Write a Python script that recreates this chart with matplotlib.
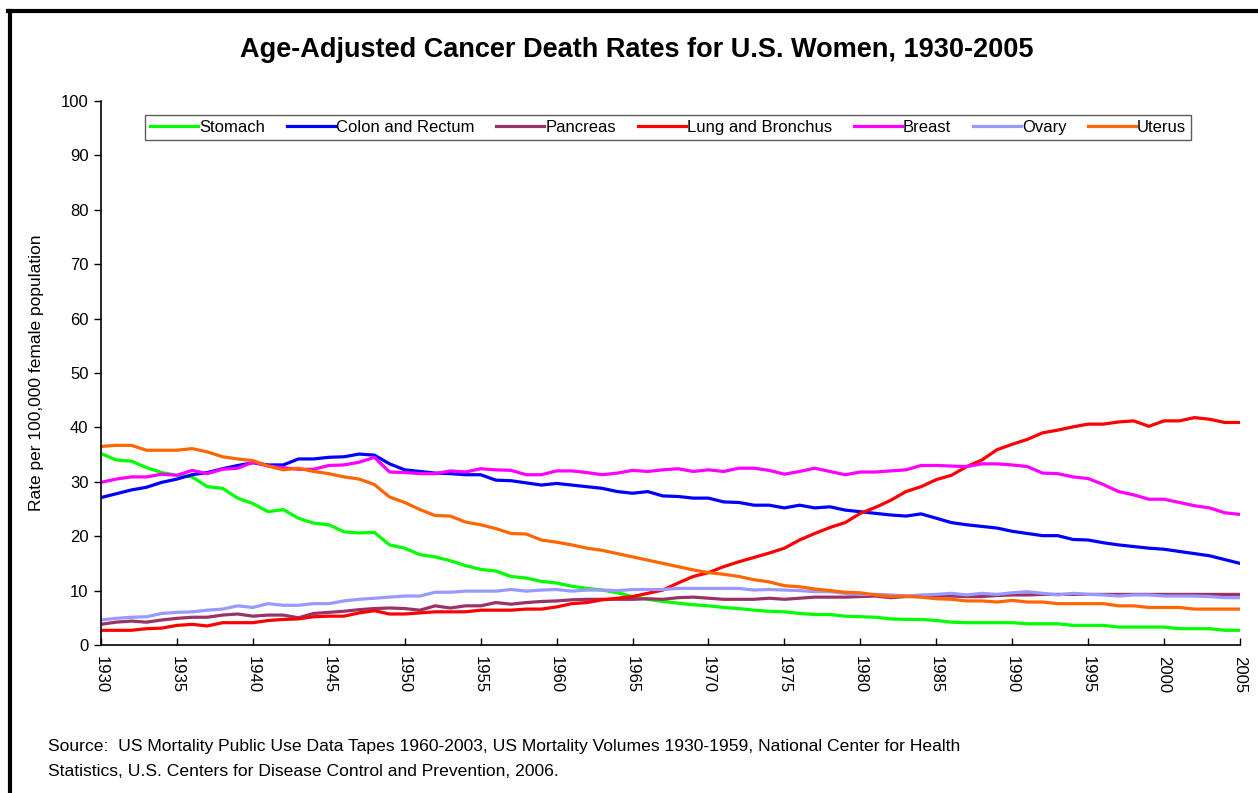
import numpy as np
import matplotlib
matplotlib.use("Agg")
import matplotlib.pyplot as plt
from matplotlib.lines import Line2D

plt.rcParams['font.family'] = ['Liberation Sans', 'DejaVu Sans']

years = np.arange(1930, 2006)

stomach = [35.2, 34.0, 33.8, 32.6, 31.7, 31.2, 30.9, 29.1, 28.8, 27.0,
           26.0, 24.5, 24.9, 23.3, 22.4, 22.1, 20.8, 20.6, 20.7, 18.4,
           17.8, 16.6, 16.2, 15.5, 14.6, 13.9, 13.6, 12.6, 12.3, 11.7,
           11.4, 10.8, 10.4, 10.1, 9.6, 8.9, 8.4, 8.0, 7.7, 7.4,
           7.2, 6.9, 6.7, 6.4, 6.2, 6.1, 5.8, 5.6, 5.6, 5.3,
           5.2, 5.1, 4.8, 4.7, 4.7, 4.5, 4.2, 4.1, 4.1, 4.1,
           4.1, 3.9, 3.9, 3.9, 3.6, 3.6, 3.6, 3.3, 3.3, 3.3,
           3.3, 3.0, 3.0, 3.0, 2.7, 2.7]

colon = [27.1, 27.8, 28.5, 29.0, 29.9, 30.5, 31.3, 31.7, 32.4, 33.0,
         33.5, 33.1, 33.1, 34.2, 34.2, 34.5, 34.6, 35.1, 34.9, 33.3,
         32.2, 31.9, 31.6, 31.5, 31.3, 31.3, 30.3, 30.2, 29.8, 29.4,
         29.7, 29.4, 29.1, 28.8, 28.2, 27.9, 28.2, 27.4, 27.3, 27.0,
         27.0, 26.3, 26.2, 25.7, 25.7, 25.2, 25.7, 25.2, 25.4, 24.8,
         24.5, 24.2, 23.9, 23.7, 24.1, 23.3, 22.5, 22.1, 21.8, 21.5,
         20.9, 20.5, 20.1, 20.1, 19.4, 19.3, 18.8, 18.4, 18.1, 17.8,
         17.6, 17.2, 16.8, 16.4, 15.7, 15.0]

pancreas = [3.8, 4.2, 4.4, 4.2, 4.6, 4.9, 5.1, 5.1, 5.5, 5.7,
            5.3, 5.5, 5.5, 5.0, 5.8, 6.0, 6.2, 6.5, 6.7, 6.8,
            6.7, 6.4, 7.2, 6.8, 7.2, 7.2, 7.8, 7.5, 7.8, 8.0,
            8.1, 8.3, 8.4, 8.4, 8.4, 8.4, 8.5, 8.4, 8.7, 8.8,
            8.6, 8.4, 8.4, 8.4, 8.6, 8.4, 8.6, 8.8, 8.8, 8.8,
            8.9, 9.0, 8.7, 8.9, 8.9, 9.0, 9.0, 8.9, 8.9, 9.1,
            9.2, 9.2, 9.3, 9.3, 9.3, 9.3, 9.3, 9.3, 9.3, 9.3,
            9.3, 9.3, 9.3, 9.3, 9.3, 9.3]

lung = [2.7, 2.7, 2.7, 3.0, 3.1, 3.6, 3.8, 3.5, 4.1, 4.1,
        4.1, 4.5, 4.7, 4.8, 5.2, 5.3, 5.3, 5.9, 6.3, 5.7,
        5.7, 5.9, 6.1, 6.1, 6.1, 6.4, 6.4, 6.4, 6.6, 6.6,
        7.0, 7.6, 7.8, 8.3, 8.6, 8.9, 9.5, 10.1, 11.4, 12.6,
        13.3, 14.4, 15.3, 16.1, 16.9, 17.8, 19.3, 20.5, 21.6, 22.5,
        24.2, 25.3, 26.6, 28.2, 29.1, 30.4, 31.2, 32.8, 34.0, 35.9,
        36.9, 37.8, 39.0, 39.5, 40.1, 40.6, 40.6, 41.0, 41.2, 40.2,
        41.2, 41.2, 41.8, 41.5, 40.9, 40.9]

breast = [29.9, 30.5, 30.9, 30.9, 31.4, 31.2, 32.1, 31.5, 32.3, 32.5,
          33.6, 32.9, 32.6, 32.3, 32.3, 33.0, 33.1, 33.6, 34.5, 31.8,
          31.7, 31.5, 31.5, 32.0, 31.8, 32.4, 32.2, 32.1, 31.3, 31.3,
          32.0, 32.0, 31.7, 31.3, 31.6, 32.1, 31.9, 32.2, 32.4, 31.9,
          32.2, 31.9, 32.5, 32.5, 32.1, 31.4, 31.9, 32.5, 31.9, 31.3,
          31.8, 31.8, 32.0, 32.2, 33.0, 33.0, 32.9, 32.8, 33.3, 33.3,
          33.1, 32.8, 31.6, 31.5, 30.9, 30.6, 29.5, 28.2, 27.6, 26.8,
          26.8, 26.2, 25.6, 25.2, 24.3, 24.0]

ovary = [4.6, 4.9, 5.1, 5.2, 5.8, 6.0, 6.1, 6.4, 6.6, 7.2,
         6.9, 7.6, 7.3, 7.3, 7.6, 7.6, 8.1, 8.4, 8.6, 8.8,
         9.0, 9.0, 9.7, 9.7, 9.9, 9.9, 9.9, 10.2, 9.9, 10.1,
         10.2, 9.9, 10.1, 10.1, 10.0, 10.2, 10.2, 10.2, 10.4, 10.4,
         10.4, 10.4, 10.4, 10.1, 10.2, 10.1, 10.0, 9.8, 9.8, 9.5,
         9.3, 9.3, 9.2, 9.0, 9.2, 9.3, 9.5, 9.2, 9.5, 9.3,
         9.6, 9.8, 9.5, 9.2, 9.5, 9.3, 9.2, 9.0, 9.2, 9.2,
         9.0, 9.0, 9.0, 8.9, 8.7, 8.7]

uterus = [36.5, 36.7, 36.7, 35.8, 35.8, 35.8, 36.1, 35.5, 34.6, 34.2,
          33.9, 32.9, 32.2, 32.5, 31.9, 31.5, 30.9, 30.5, 29.5, 27.2,
          26.2, 24.9, 23.8, 23.7, 22.6, 22.1, 21.4, 20.5, 20.4, 19.3,
          18.9, 18.4, 17.8, 17.4, 16.8, 16.2, 15.6, 15.0, 14.4, 13.8,
          13.3, 13.0, 12.6, 12.0, 11.6, 10.9, 10.7, 10.3, 10.0, 9.7,
          9.6, 9.2, 8.9, 9.0, 8.8, 8.5, 8.4, 8.1, 8.1, 7.9,
          8.2, 7.9, 7.9, 7.6, 7.6, 7.6, 7.6, 7.2, 7.2, 6.9,
          6.9, 6.9, 6.6, 6.6, 6.6, 6.6]

labels = ["Stomach", "Colon and Rectum", "Pancreas", "Lung and Bronchus",
          "Breast", "Ovary", "Uterus"]
colors = ["#00FF00", "#0000FF", "#993366", "#FF0000", "#FF00FF", "#9999FF", "#FF6600"]
series = [stomach, colon, pancreas, lung, breast, ovary, uterus]

fig = plt.figure(figsize=(12.58, 7.93), dpi=100)
ax = fig.add_axes([101/1258, 1 - 645/793, (1240 - 101)/1258, (645 - 101)/793])

for vals, lab, col in zip(series, labels, colors):
    ax.plot(years, vals, color=col, lw=2.3, label=lab)

ax.set_xlim(1930, 2005)
ax.set_ylim(0, 100)
ax.set_xticks(np.arange(1930, 2006, 5))
ax.set_yticks(np.arange(0, 101, 10))
ax.tick_params(axis='x', direction='in', length=5, width=1, labelrotation=270, labelsize=12, pad=8)
ax.tick_params(axis='y', direction='out', length=5, width=1, labelsize=12, pad=4)
ax.spines['top'].set_visible(False)
ax.spines['right'].set_visible(False)
ax.spines['left'].set_linewidth(1.2)
ax.spines['bottom'].set_linewidth(1.2)
ax.set_ylabel("Rate per 100,000 female population", fontsize=12.5, labelpad=12)

leg = ax.legend(loc='upper center', bbox_to_anchor=(0.498, 0.974), ncol=7,
                fontsize=12, frameon=True, fancybox=False, handlelength=2.9,
                handletextpad=0.05, columnspacing=1.3, borderpad=0.3,
                borderaxespad=0)
leg.get_frame().set_edgecolor('#333333')
leg.get_frame().set_linewidth(1.0)

fig.text(0.506, 1 - 50/793, "Age-Adjusted Cancer Death Rates for U.S. Women, 1930-2005",
         ha='center', va='center', fontsize=19.5, fontweight='bold')

fig.text(48/1258, 1 - 746/793,
         "Source:  US Mortality Public Use Data Tapes 1960-2003, US Mortality Volumes 1930-1959, National Center for Health",
         ha='left', va='center', fontsize=12.6)
fig.text(48/1258, 1 - 771/793,
         "Statistics, U.S. Centers for Disease Control and Prevention, 2006.",
         ha='left', va='center', fontsize=12.6)

# outer border (only top and left edges visible in the crop)
fig.add_artist(Line2D([9.5/1258, 9.5/1258], [0, 1 - 11/793], transform=fig.transFigure, color='black', lw=3))
fig.add_artist(Line2D([8/1258, 1], [1 - 11/793, 1 - 11/793], transform=fig.transFigure, color='black', lw=3))

fig.savefig("out.png", dpi=100)
